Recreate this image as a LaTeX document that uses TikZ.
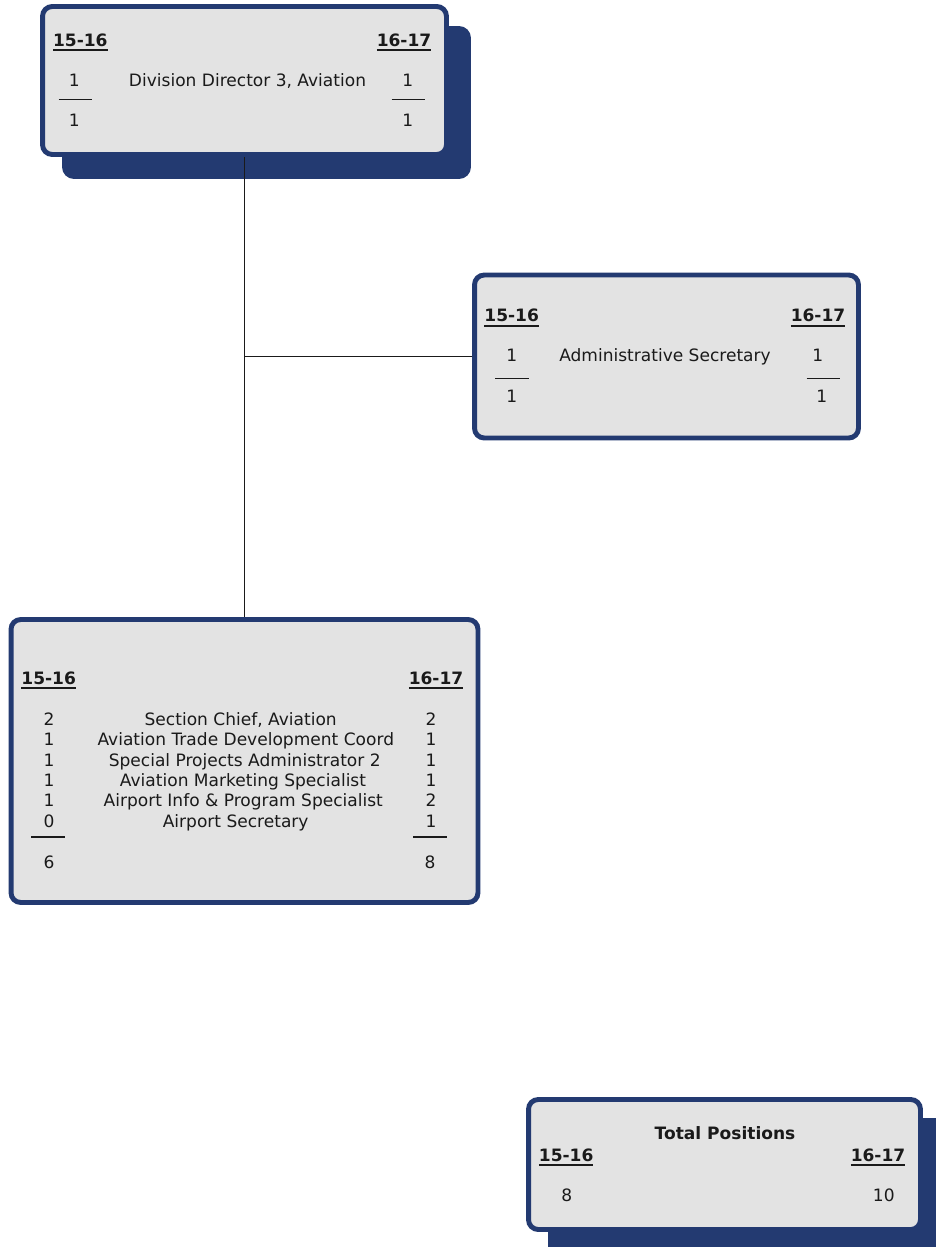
\documentclass[tikz,border=0pt]{standalone}
\usepackage{fontspec}
\setmainfont{DejaVu Sans}
\usetikzlibrary{positioning}
\definecolor{navy}{HTML}{233A71}
\definecolor{boxgray}{HTML}{E3E3E3}
\definecolor{ink}{HTML}{1A1A1A}
\tikzset{
	posbox/.style = {draw = navy, fill = boxgray, line width = 2.8pt, rounded corners = 5.5pt, inner sep = 0pt},
	shadowbox/.style = {fill = navy, rounded corners = 6.8pt, inner sep = 0pt},
	yr/.style = {font = \bfseries\fontsize{9.7}{11}\selectfont, text = ink, inner sep = 0pt, text height = 1.6ex, text depth = .35ex},
	txt/.style = {font = \fontsize{9.7}{11}\selectfont, text = ink, inner sep = 0pt, text height = 1.6ex, text depth = .35ex},
	bar/.style = {ink, line width = 0.7pt}
}
\newcommand{\yr}[1]{\setbox0\hbox{#1}\rlap{\rule[-2.8pt]{\wd0}{0.9pt}}\box0}
\begin{document}
\begin{tikzpicture}[x = 0.02cm, y = -0.02cm]
\useasboundingbox (0,0) rectangle (936,1247);
\clip (0,0) rectangle (936,1247);
\node[shadowbox, minimum width = 8.18cm, minimum height = 3.06cm] (dirshadow) at (266.5,102.5) {};
\node[shadowbox, minimum width = 8.04cm, minimum height = 2.84cm] (totshadow) at (749,1189) {};
\node[posbox, minimum width = 8.08cm, minimum height = 2.96cm] (dir) at (244.5,80.5) {};
\node[posbox, minimum width = 7.68cm, minimum height = 3.26cm] (admin) at (666.5,356.5) {};
\node[posbox, minimum width = 9.34cm, minimum height = 5.66cm] (sect) at (244.5,761) {};
\node[posbox, minimum width = 7.84cm, minimum height = 2.6cm] (total) at (724.5,1164.5) {};
\draw[ink, line width = 0.5pt] (dir.south) -- (sect.north);
\draw[ink, line width = 0.5pt] (admin.west) -- (admin.west -| dir.south);

\node[yr] (dir-y1) at (80.3,40) {\yr{15-16}};
\node[yr] (dir-y2) at (404,40) {\yr{16-17}};
\node[txt] (dir-title) at (247.5,80.7) {Division Director 3, Aviation};
\node[txt] (dir-a1) at (74.3,80.7) {1};
\node[txt] (dir-a2) at (74.3,120.7) {1};
\node[txt] (dir-b1) at (407.7,80.7) {1};
\node[txt] (dir-b2) at (407.7,120.7) {1};
\draw[bar] (58.7,99.5) -- (92,99.5);
\draw[bar] (391.7,99.5) -- (425,99.5);

\node[yr] (admin-y1) at (511.7,315.7) {\yr{15-16}};
\node[yr] (admin-y2) at (818,315.7) {\yr{16-17}};
\node[txt] (admin-title) at (665,355.7) {Administrative Secretary};
\node[txt] (admin-a1) at (511.7,355.7) {1};
\node[txt] (admin-a2) at (511.7,396) {1};
\node[txt] (admin-b1) at (817.7,355.7) {1};
\node[txt] (admin-b2) at (821.7,396) {1};
\draw[bar] (495,378.3) -- (529,378.3);
\draw[bar] (806.7,378.3) -- (840,378.3);

\node[yr] (sect-y1) at (48.7,678) {\yr{15-16}};
\node[yr] (sect-y2) at (436,678) {\yr{16-17}};
\foreach \a/\t/\b/\x [count = \i] in {2/{Section Chief, Aviation}/2/240.7,
	1/{Aviation Trade Development Coord}/1/245.8,
	1/{Special Projects Administrator 2}/1/244.7,
	1/{Aviation Marketing Specialist}/1/243,
	1/{Airport Info \& Program Specialist}/2/243.3,
	0/{Airport Secretary}/1/235.7}
{
	\node[txt] (sect-a\i) at (49, 698.9 + 20.4*\i) {\a};
	\node[txt] (sect-t\i) at (\x, 698.9 + 20.4*\i) {\t};
	\node[txt] (sect-b\i) at (431, 698.9 + 20.4*\i) {\b};
}
\draw[bar] (31,837) -- (65,837);
\draw[bar] (413,837) -- (447,837);
\node[txt] (sect-asum) at (49,862.3) {6};
\node[txt] (sect-bsum) at (430,862.3) {8};

\node[yr] (total-title) at (725,1133.3) {Total Positions};
\node[yr] (total-y1) at (566.2,1155) {\yr{15-16}};
\node[yr] (total-y2) at (878,1155) {\yr{16-17}};
\node[txt] (total-a) at (566.7,1195) {8};
\node[txt] (total-b) at (883.8,1195) {10};
\end{tikzpicture}
\end{document}
